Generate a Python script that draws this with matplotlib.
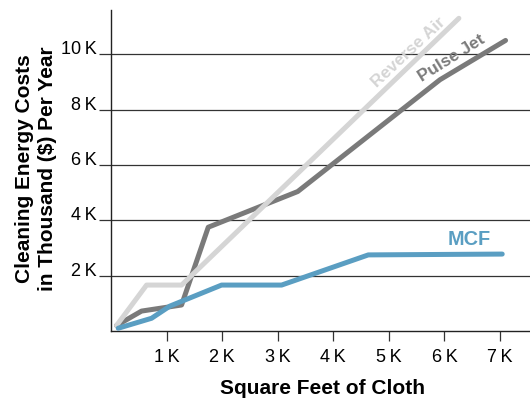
import matplotlib
matplotlib.use('Agg')
import matplotlib.pyplot as plt

# values (thousands)
reverse_air_x = [0.1, 0.64, 1.27, 6.26]
reverse_air_y = [0.2, 1.66, 1.66, 11.3]

pulse_jet_x = [0.1, 0.55, 1.27, 1.75, 3.36, 5.92, 7.1]
pulse_jet_y = [0.2, 0.72, 0.94, 3.75, 5.04, 9.08, 10.5]

mcf_x = [0.13, 0.73, 1.06, 1.99, 3.07, 4.63, 7.04]
mcf_y = [0.1, 0.46, 0.9, 1.66, 1.66, 2.75, 2.78]

x_ticks = [1, 2, 3, 4, 5, 6, 7]
y_ticks = [2, 4, 6, 8, 10]

plt.rcParams['font.family'] = ['Liberation Sans', 'DejaVu Sans']

fig = plt.figure(figsize=(5.3, 4.0), dpi=100)
ax = fig.add_axes([111 / 530, 69 / 400, 419 / 530, 321 / 400])

ax.set_xlim(0, 7.54)
ax.set_ylim(0, 11.6)

ax.plot(pulse_jet_x, pulse_jet_y, color='#7a7a7a', lw=3.6,
        solid_capstyle='round', solid_joinstyle='round', zorder=3)
ax.plot(reverse_air_x, reverse_air_y, color='#d5d5d5', lw=3.6,
        solid_capstyle='round', solid_joinstyle='round', zorder=4)
ax.plot(mcf_x, mcf_y, color='#5a9ec2', lw=3.6,
        solid_capstyle='round', solid_joinstyle='round', zorder=5)

# grid lines
for y in y_ticks:
    ax.axhline(y, color='#333333', lw=0.9, zorder=1)

for side in ['top', 'right']:
    ax.spines[side].set_visible(False)
for side in ['left', 'bottom']:
    ax.spines[side].set_linewidth(1.0)
    ax.spines[side].set_color('#222222')

ax.set_xticks(x_ticks)
ax.set_xticklabels([f'{v}\u2009K' for v in x_ticks])
ax.set_yticks(y_ticks)
ax.set_yticklabels([f'{v}\u2009K' for v in y_ticks])
ax.tick_params(axis='x', length=7, width=0.9, pad=6, labelsize=13, color='#333333')
ax.tick_params(axis='y', length=8.6, width=0.9, pad=1.5, labelsize=13, color='#333333')
for lbl in ax.get_yticklabels():
    lbl.set_va('baseline')

# series labels
ax.text(5.36, 10.06, 'Reverse Air', color='#d5d5d5', fontsize=12.3, fontweight='bold',
        rotation=43, ha='center', va='center')
ax.text(6.12, 9.84, 'Pulse Jet', color='#7a7a7a', fontsize=12.3, fontweight='bold',
        rotation=32, ha='center', va='center')
ax.text(6.44, 3.29, 'MCF', color='#5a9ec2', fontsize=14.3, fontweight='bold',
        ha='center', va='center')

fig.text(322 / 530, 1 - 388 / 400, 'Square Feet of Cloth', fontsize=15,
         fontweight='bold', ha='center', va='center')
fig.text(36 / 530, 1 - 169 / 400, 'Cleaning Energy Costs\nin Thousand ($) Per Year',
         fontsize=15, fontweight='bold', ha='center', va='center',
         rotation=90, linespacing=1.25)

fig.savefig('out.png', dpi=100)
